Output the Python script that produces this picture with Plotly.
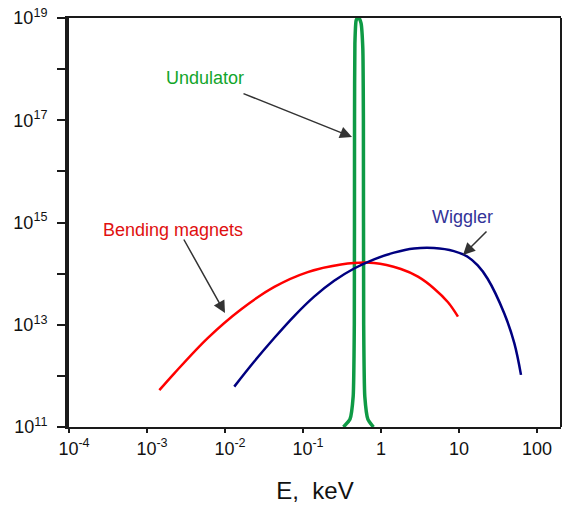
import plotly.graph_objects as go

# Bending magnets (red): photon energy (keV) and log10 of flux
bend_E = [1.44e-3, 2.24e-3, 6.0e-3, 0.016, 0.0429, 0.115, 0.307, 0.813, 1.80, 2.98, 4.78, 7.23, 9.70]
bend_logF = [11.72, 12.05, 12.74, 13.30, 13.74, 14.03, 14.18, 14.21, 14.09, 13.94, 13.71, 13.44, 13.16]

# Wiggler (blue)
wig_E = [0.01315, 0.0237, 0.0428, 0.0771, 0.139, 0.251, 0.452, 0.815, 1.47, 2.65, 4.78, 8.61, 12.9, 17.4, 23.3, 38.1, 51.2, 62.4]
wig_logF = [11.79, 12.28, 12.74, 13.17, 13.55, 13.86, 14.10, 14.28, 14.41, 14.49, 14.50, 14.44, 14.33, 14.16, 13.90, 13.22, 12.64, 12.02]

# Undulator (green, narrow peak)
und_E = [0.33, 0.40, 0.44, 0.455, 0.458, 0.463, 0.48, 0.50, 0.52, 0.555, 0.585, 0.595, 0.60, 0.62, 0.68, 0.80]
und_logF = [11.0, 11.15, 11.6, 13.0, 17.0, 18.5, 18.95, 19.0, 19.0, 18.9, 18.4, 17.0, 13.0, 11.6, 11.15, 11.0]

x_tickvals = [1e-4, 1e-3, 1e-2, 1e-1, 1, 10, 100]
x_ticktext = ["&nbsp;&nbsp;10<sup>-4</sup>", "&nbsp;&nbsp;10<sup>-3</sup>", "&nbsp;&nbsp;10<sup>-2</sup>",
              "&nbsp;&nbsp;10<sup>-1</sup>", "1", "10", "100"]
y_tickvals = [1e11, 1e12, 1e13, 1e14, 1e15, 1e16, 1e17, 1e18, 1e19]
y_ticktext = ["10<sup>11</sup>", "", "10<sup>13</sup>", "", "10<sup>15</sup>", "", "10<sup>17</sup>", "", "10<sup>19</sup>"]

def flux(logs):
    return [10 ** v for v in logs]

fig = go.Figure()
fig.add_trace(go.Scatter(x=und_E, y=flux(und_logF), mode="lines",
                         line=dict(color="#0e9a45", width=3.5, shape="spline", smoothing=0.5)))
fig.add_trace(go.Scatter(x=bend_E, y=flux(bend_logF), mode="lines",
                         line=dict(color="#ff0000", width=2.5, shape="spline")))
fig.add_trace(go.Scatter(x=wig_E, y=flux(wig_logF), mode="lines",
                         line=dict(color="#000080", width=2.5, shape="spline")))

font = "Liberation Sans, Arial, sans-serif"

fig.update_layout(
    width=564, height=510,
    margin=dict(l=69, r=3, t=18, b=83),
    paper_bgcolor="white", plot_bgcolor="white",
    showlegend=False,
    font=dict(family=font, size=18, color="#111111"),
    xaxis=dict(type="log", range=[-4, 2.308], tickvals=x_tickvals, ticktext=x_ticktext,
               showgrid=False, zeroline=False, showline=True, linecolor="#1a1a1a",
               linewidth=2, mirror=True, ticks="outside", ticklen=4, tickwidth=2,
               tickcolor="#1a1a1a", ticklabelstandoff=0, automargin=False,
               title=dict(text="E,&nbsp; keV", font=dict(size=24), standoff=25)),
    yaxis=dict(type="log", range=[11, 19], tickvals=y_tickvals, ticktext=y_ticktext,
               showgrid=False, zeroline=False, showline=True, linecolor="#1a1a1a",
               linewidth=4, mirror=False, ticks="outside", ticklen=8, tickwidth=2,
               tickcolor="#1a1a1a", ticklabelstandoff=6, automargin=False),
    shapes=[dict(type="line", xref="paper", yref="paper", x0=1, x1=1, y0=0, y1=1,
                 line=dict(color="#1a1a1a", width=2))],
)

def px(x):
    return (x - 69) / 492.0

def py(y):
    return (427 - y) / 409.0

def label(text, color, tx, ty, hx, hy, lx, ly):
    fig.add_annotation(x=px(lx), y=py(ly), xref="paper", yref="paper", text=text, showarrow=False,
                       xanchor="center", yanchor="middle",
                       font=dict(family=font, size=18, color=color))
    fig.add_annotation(x=px(hx), y=py(hy), ax=tx - hx, ay=ty - hy, xref="paper", yref="paper",
                       axref="pixel", ayref="pixel", text="", showarrow=True,
                       arrowhead=2, arrowsize=1.6, arrowwidth=1.5, arrowcolor="#333333")

label("Undulator", "#12a52a", 242, 93, 352, 137, 205, 78)
label("Bending magnets", "#e01010", 183, 238, 225, 313, 173, 230)
label("Wiggler", "#333399", 488, 230, 463, 255, 462, 217)

fig.write_html("out.html", config={"displayModeBar": False},
               post_script="document.body.style.margin='0px';document.body.style.overflow='hidden';")
